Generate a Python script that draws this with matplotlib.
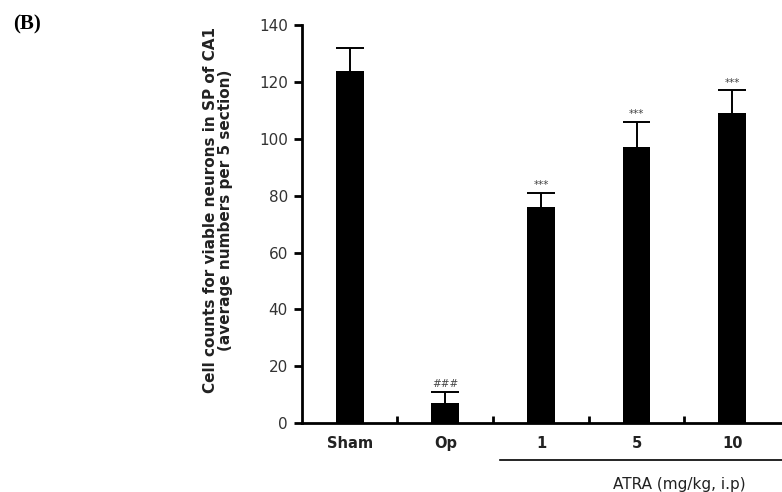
import numpy as np
import matplotlib.pyplot as plt

plt.rcParams['font.family'] = ['DejaVu Sans']

groups = ['Sham', 'Op', '1', '5', '10']
means = [124, 7, 76, 97, 109]
errs = [8, 4, 5, 9, 8]
marks = ['', '###', '***', '***', '***']

fig = plt.figure(figsize=(7.82, 4.92), dpi=100)
ax = fig.add_axes([0.386, 0.140, 0.614, 0.809])

x = np.arange(len(groups))
w = 0.29
tops = np.array(means) + np.array(errs)
ax.bar(x, means, width=w, color='black', zorder=2)
# upper error bars only
ax.vlines(x, means, tops, color='black', lw=1.4, zorder=1)
ax.hlines(tops, x - w / 2, x + w / 2, color='black', lw=1.4, zorder=1)

for xi, t, s in zip(x, tops, marks):
    if s:
        ax.text(xi, t + 1.0, s, ha='center', va='bottom', fontsize=7.5,
                color='#444444')

ax.set_xlim(-0.5, 4.52)
ax.set_ylim(0, 140)
ax.set_yticks(np.arange(0, 141, 20))
ax.set_xticks(x)
ax.set_xticklabels(groups, fontweight='bold', fontsize=10.5)
ax.set_xticks(x[:-1] + 0.5, minor=True)
ax.tick_params(axis='x', which='major', length=0, pad=9, labelcolor='#222222')
ax.tick_params(axis='x', which='minor', direction='in', length=5, width=2)
ax.tick_params(axis='y', direction='out', length=6, width=2, labelsize=11, pad=4,
               labelcolor='#333333')

for side in ['top', 'right']:
    ax.spines[side].set_visible(False)
ax.spines['left'].set_linewidth(2)
ax.spines['bottom'].set_linewidth(2)

ax.set_ylabel('Cell counts for viable neurons in SP of CA1\n(average numbers per 5 section)',
              fontweight='bold', fontsize=11, linespacing=1.0, color='#222222')
ax.yaxis.set_label_coords(-0.144, 0.535)

# treatment group underline and label
tr = ax.get_xaxis_transform()
ax.plot([1.57, 4.52], [-0.093, -0.093], color='black', lw=1.2,
        clip_on=False, transform=tr)
ax.text(3.45, -0.155, 'ATRA (mg/kg, i.p)', ha='center', va='center', fontsize=11,
        color='#222222', transform=tr)

fig.text(0.017, 0.95, '(B)', fontsize=15, fontweight='bold', family='Liberation Serif',
         va='center')

fig.savefig('out.png', dpi=100)
